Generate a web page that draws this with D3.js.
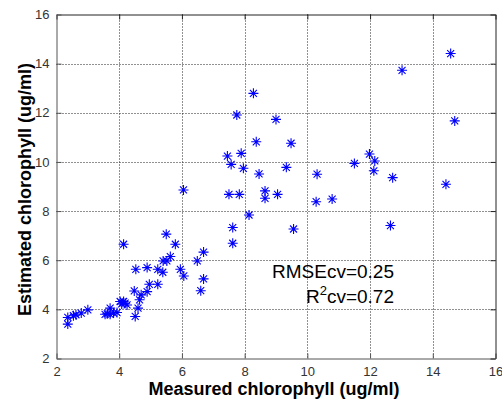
<!DOCTYPE html>
<html><head><meta charset="utf-8">
<script src="https://cdn.jsdelivr.net/npm/d3@7"></script>
<style>body{margin:0;background:#fff}svg{display:block}</style>
</head><body>
<svg id="c" width="502" height="401"></svg>
<script>
const measured = [2.36,2.36,2.54,2.62,2.79,3.00,3.55,3.62,3.71,3.71,3.82,3.93,
  4.03,4.08,4.14,4.19,4.25,4.51,4.60,4.65,4.70,4.48,4.89,4.96,5.23,
  4.14,4.53,4.89,5.23,5.40,5.39,5.52,5.63,5.50,5.79,5.95,6.06,
  6.49,6.69,6.69,6.60,7.62,7.62,8.14,9.56,
  6.05,7.50,7.83,8.65,8.65,9.05,
  7.45,7.89,7.57,7.96,8.46,9.33,8.37,9.48,7.75,9.00,8.28,
  10.31,10.28,10.79,11.50,11.98,12.15,12.12,12.72,12.65,14.42,14.70,14.57,13.02];
const estimated = [3.40,3.67,3.74,3.78,3.85,3.98,3.80,3.82,4.05,3.80,3.85,3.87,
  4.32,4.22,4.32,4.25,4.18,3.71,4.05,4.39,4.59,4.75,4.72,5.02,5.02,
  6.65,5.63,5.70,5.63,5.97,5.51,5.97,6.15,7.06,6.65,5.63,5.36,
  5.97,6.33,5.24,4.76,7.33,6.69,7.84,7.27,
  8.86,8.68,8.68,8.82,8.52,8.68,
  10.24,10.35,9.90,9.74,9.51,9.78,10.82,10.76,11.91,11.73,12.79,
  9.50,8.38,8.49,9.94,10.32,10.04,9.64,9.36,7.41,9.09,11.67,14.41,13.73];
const xTicks = [2,4,6,8,10,12,14,16];
const yTicks = [2,4,6,8,10,12,14,16];
const annotation = ["RMSEcv=0.25", "cv=0.72"];

const svg = d3.select("#c");
const L=56.5, R=495.5, T=14.5, B=358.5;
const x = d3.scaleLinear().domain([2,16]).range([L,R]);
const y = d3.scaleLinear().domain([2,16]).range([B,T]);
const font = "'Liberation Sans', Arial, sans-serif";

// grid
const g = svg.append("g");
g.selectAll(".vg").data(xTicks.slice(1,-1)).enter().append("line")
  .attr("x1",d=>Math.round(x(d))+0.5).attr("x2",d=>Math.round(x(d))+0.5)
  .attr("y1",T).attr("y2",B).attr("stroke","#222").attr("stroke-dasharray","1,2");
g.selectAll(".hg").data(yTicks.slice(1,-1)).enter().append("line")
  .attr("y1",d=>Math.round(y(d))+0.5).attr("y2",d=>Math.round(y(d))+0.5)
  .attr("x1",L).attr("x2",R).attr("stroke","#222").attr("stroke-dasharray","1,2");

// axes with inward ticks
const axB = d3.axisBottom(x).tickValues(xTicks).tickFormat(d3.format("d")).tickSizeInner(-5).tickSizeOuter(0).tickPadding(8);
const axT = d3.axisTop(x).tickValues(xTicks).tickFormat("").tickSizeInner(-5).tickSizeOuter(0);
const axLft = d3.axisLeft(y).tickValues(yTicks).tickFormat(d3.format("d")).tickSizeInner(-5).tickSizeOuter(0).tickPadding(7);
const axRt = d3.axisRight(y).tickValues(yTicks).tickFormat("").tickSizeInner(-5).tickSizeOuter(0);
[[axB,`translate(0,${B})`,"#555"],[axT,`translate(0,${T})`,"#222"],[axLft,`translate(${L},0)`,"#555"],[axRt,`translate(${R},0)`,"#222"]].forEach(([a,t,c])=>{
  const ga = svg.append("g").attr("transform",t).call(a);
  ga.selectAll("path").attr("stroke",c);
  ga.selectAll("line").attr("stroke",c);
  ga.selectAll("text").attr("font-family",font).attr("font-size",13).attr("fill","#333");
});

// markers
const star = "M-5,0H5M0,-5V5M-3.5,-3.5L3.5,3.5M-3.5,3.5L3.5,-3.5";
svg.append("g").selectAll("path").data(measured.map((m,i)=>[m,estimated[i]])).enter()
  .append("path").attr("d",star)
  .attr("transform",d=>`translate(${x(d[0])},${y(d[1])})`)
  .attr("stroke","#0000ff").attr("stroke-width",1.1).attr("fill","none");

// annotation
svg.append("text").attr("x",394).attr("y",278).attr("text-anchor","end")
  .attr("font-family",font).attr("font-size",19).attr("fill","#000").text(annotation[0]);
const t2 = svg.append("text").attr("x",394).attr("y",303).attr("text-anchor","end")
  .attr("font-family",font).attr("font-size",19).attr("fill","#000");
t2.append("tspan").text("R");
t2.append("tspan").attr("dy",-8).attr("font-size",13).text("2");
t2.append("tspan").attr("dy",8).text(annotation[1]);

// axis labels
svg.append("text").attr("x",(L+R)/2-2).attr("y",395).attr("text-anchor","middle")
  .attr("font-family",font).attr("font-weight","bold").attr("font-size",18).text("Measured chlorophyll (ug/ml)");
svg.append("text").attr("transform",`translate(31,${(T+B)/2+3}) rotate(-90)`).attr("text-anchor","middle")
  .attr("font-family",font).attr("font-weight","bold").attr("font-size",18).text("Estimated chlorophyll (ug/ml)");
</script>
</body></html>
